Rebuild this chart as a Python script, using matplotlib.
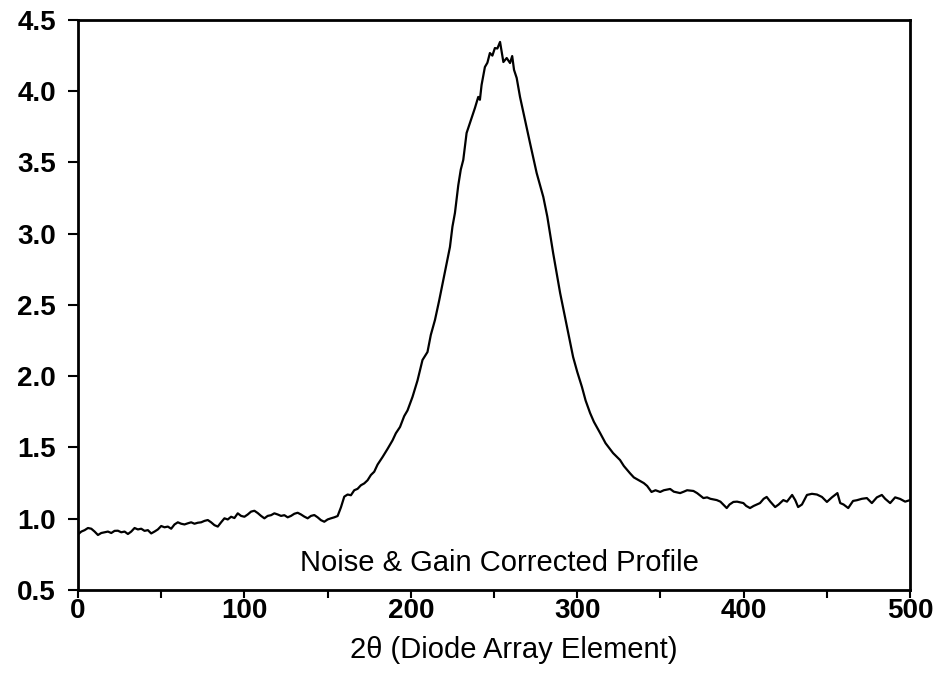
import matplotlib
matplotlib.use("Agg")
import matplotlib.pyplot as plt
import numpy as np

plt.rcParams["font.family"] = ["Liberation Sans", "DejaVu Sans"]

# diode array element (x) and corrected intensity (y)
element = [
    0, 2, 4, 6, 8, 10, 12, 14, 16, 18, 20, 22, 24, 26, 28, 30, 32, 34, 36, 38,
    40, 42, 44, 46, 48, 50, 52, 54, 56, 58, 60, 62, 64, 66, 68, 70, 72, 74, 76, 78,
    80, 82, 84, 86, 88, 90, 92, 94, 96, 98, 100, 102, 104, 106, 108, 110, 112, 114,
    116, 118, 120, 122, 124, 126, 128, 130, 132, 134, 136, 138, 140, 142, 144, 146,
    148, 150, 152, 154, 156, 158, 160, 162, 164, 166, 168, 170, 172, 174, 176, 178,
    180, 183, 186, 189, 191, 193.5, 196, 198, 201, 204, 207, 210, 212, 214.5, 217,
    219.5, 221.5, 223.5, 225, 226.5, 228.5, 230, 231.5, 233.5, 235, 236.5, 238.5,
    240.5, 241.5, 242.5, 244.5, 246, 247.5, 249, 250.5, 252, 253.6, 255.6, 257.6,
    259.6, 260.9, 262, 263.6, 265.6, 268.6, 271.6, 275.6, 279.6, 282, 285.5, 289.7,
    293.8, 297.5, 300, 302.8, 305, 307.7, 310, 313.7, 317, 321.5, 325.7, 328, 331.7,
    334, 337.7, 340, 342, 344.6, 347, 349.8, 352, 355.8, 358, 361.8, 364, 366, 369.8,
    372, 375.8, 378, 380, 383.8, 386, 389.8, 391.5, 393.8, 396, 399.8, 401.5, 403.8,
    406, 409.8, 412, 413.8, 416, 418.9, 421, 423.8, 426, 429.1, 431, 432.7, 435, 438,
    441, 444, 447, 450, 453, 456.3, 458, 460, 462.8, 465.7, 468, 471, 474, 477, 480,
    483, 485, 488, 491, 494, 497, 500,
]
intensity = [
    0.89, 0.91, 0.92, 0.935, 0.93, 0.91, 0.886, 0.90, 0.905, 0.91, 0.90, 0.915,
    0.916, 0.905, 0.91, 0.893, 0.91, 0.935, 0.925, 0.93, 0.915, 0.92, 0.897, 0.91,
    0.925, 0.949, 0.94, 0.945, 0.93, 0.96, 0.975, 0.965, 0.96, 0.968, 0.975, 0.965,
    0.972, 0.975, 0.985, 0.991, 0.975, 0.955, 0.945, 0.975, 1.003, 0.995, 1.014,
    1.005, 1.038, 1.02, 1.014, 1.03, 1.05, 1.056, 1.04, 1.02, 1.003, 1.02, 1.025,
    1.038, 1.03, 1.02, 1.025, 1.01, 1.02, 1.035, 1.042, 1.03, 1.015, 1.003, 1.02,
    1.026, 1.01, 0.99, 0.979, 0.995, 1.003, 1.01, 1.019, 1.08, 1.155, 1.17, 1.165,
    1.20, 1.21, 1.235, 1.248, 1.27, 1.307, 1.33, 1.38, 1.433, 1.49, 1.55, 1.60,
    1.644, 1.72, 1.76, 1.855, 1.97, 2.114, 2.17, 2.29, 2.395, 2.53, 2.675, 2.79,
    2.907, 3.05, 3.146, 3.34, 3.45, 3.518, 3.707, 3.76, 3.812, 3.882, 3.96, 3.94,
    4.044, 4.17, 4.20, 4.268, 4.25, 4.303, 4.30, 4.346, 4.205, 4.233, 4.198, 4.247,
    4.15, 4.093, 3.96, 3.798, 3.637, 3.426, 3.258, 3.12, 2.865, 2.584, 2.346, 2.135,
    2.03, 1.925, 1.83, 1.742, 1.68, 1.602, 1.53, 1.461, 1.412, 1.37, 1.319, 1.29,
    1.265, 1.25, 1.23, 1.188, 1.20, 1.188, 1.20, 1.209, 1.19, 1.18, 1.19, 1.20,
    1.195, 1.18, 1.145, 1.15, 1.14, 1.131, 1.12, 1.075, 1.10, 1.118, 1.12, 1.11,
    1.09, 1.075, 1.09, 1.11, 1.14, 1.153, 1.12, 1.082, 1.10, 1.131, 1.12, 1.167,
    1.13, 1.082, 1.10, 1.167, 1.175, 1.17, 1.153, 1.118, 1.15, 1.18, 1.11, 1.10,
    1.075, 1.125, 1.13, 1.14, 1.145, 1.11, 1.15, 1.167, 1.14, 1.11, 1.15, 1.139,
    1.12, 1.131,
]

xticks = [0, 50, 100, 150, 200, 250, 300, 350, 400, 450, 500]
xticklabels = ["0", "", "100", "", "200", "", "300", "", "400", "", "500"]
yticks = [0.5, 1.0, 1.5, 2.0, 2.5, 3.0, 3.5, 4.0, 4.5]

fig = plt.figure(figsize=(9.35, 6.82), dpi=100)
ax = fig.add_axes([0.0834, 0.1349, 0.89, 0.8358])

ax.plot(element, intensity, color="black", lw=1.6)

ax.set_xlim(0, 500)
ax.set_ylim(0.5, 4.5)
ax.set_xticks(xticks)
ax.set_xticklabels(xticklabels)
ax.set_yticks(yticks)
ax.set_yticklabels(["%.1f" % v for v in yticks])
ax.tick_params(direction="out", width=1.5, labelsize=20, colors="black")
ax.tick_params(axis="x", length=6, pad=0)
ax.tick_params(axis="y", length=7, pad=9)
for lab in ax.get_xticklabels() + ax.get_yticklabels():
    lab.set_fontweight("bold")
for sp in ax.spines.values():
    sp.set_linewidth(2)

ax.set_xlabel("2θ (Diode Array Element)", fontsize=21)
ax.xaxis.set_label_coords(0.524, -0.08)

ax.text(253, 0.69, "Noise & Gain Corrected Profile", fontsize=21,
        ha="center", va="center")

fig.savefig("out.png", dpi=100)
